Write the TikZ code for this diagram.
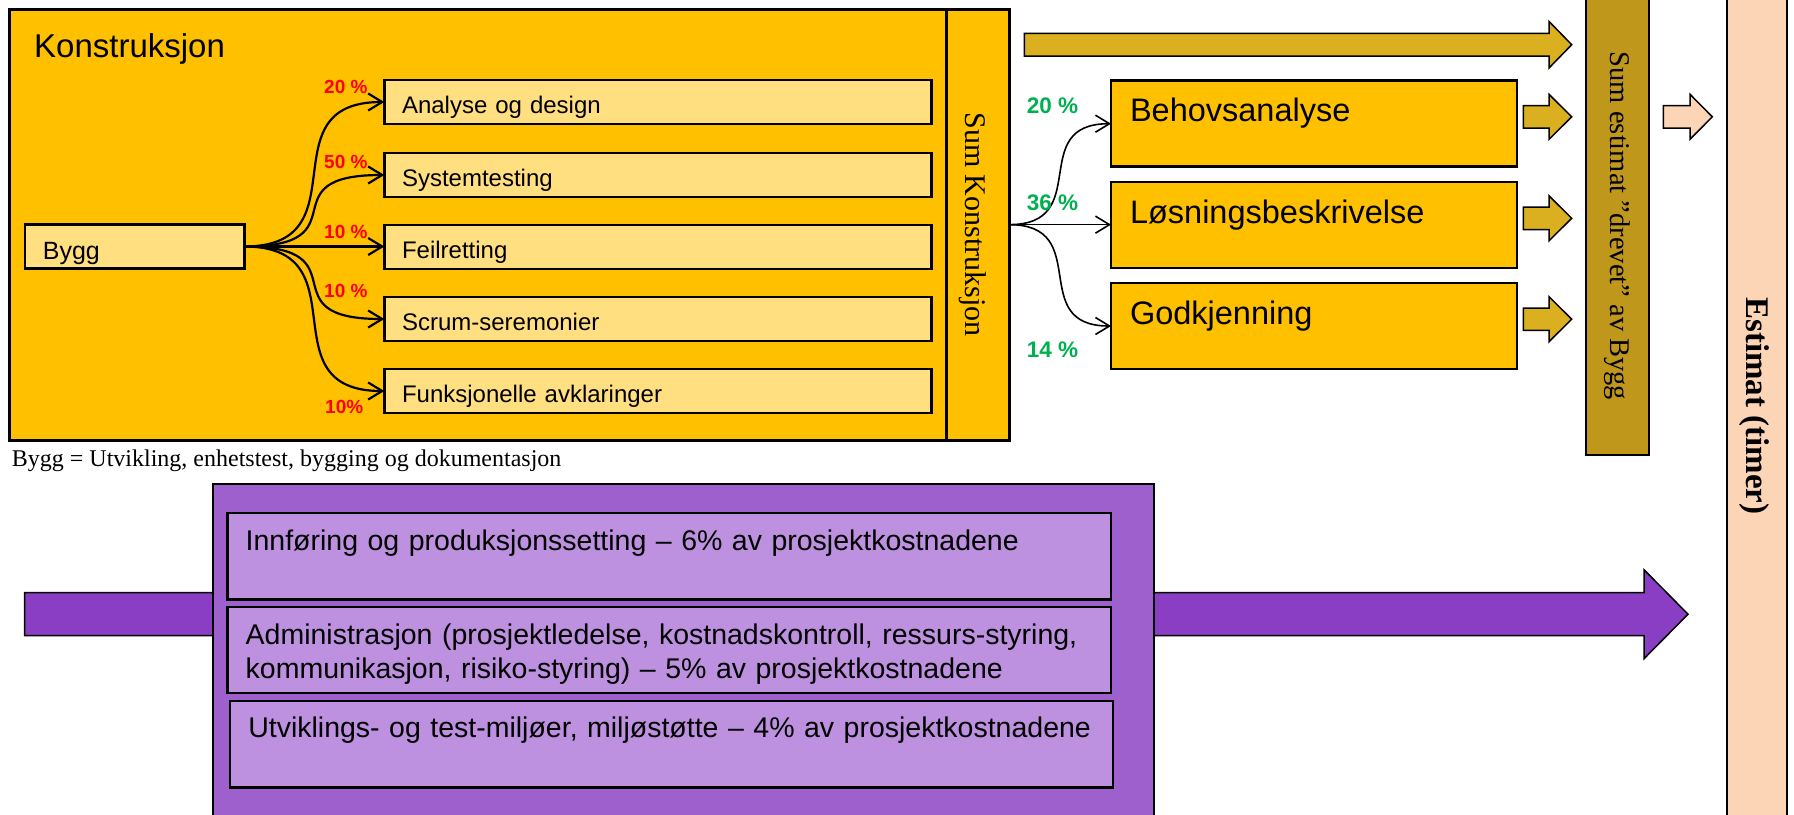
\documentclass[tikz,border=0pt]{standalone}
\usepackage{fontspec}
\setmainfont{Liberation Sans}
\newfontfamily\timesfont{Liberation Serif}
\usetikzlibrary{arrows.meta}

\definecolor{gold}{RGB}{255,192,0}
\definecolor{goldlight}{RGB}{255,223,128}
\definecolor{olivearrow}{RGB}{218,176,32}
\definecolor{olivecol}{RGB}{191,151,26}
\definecolor{peach}{RGB}{251,213,181}
\definecolor{purplearrow}{RGB}{138,62,196}
\definecolor{purplebox}{RGB}{158,96,205}
\definecolor{purplelight}{RGB}{189,145,224}
\definecolor{pctgreen}{RGB}{0,176,80}
\definecolor{pctred}{RGB}{255,0,0}

% block arrow: style, x start, x end of shaft, x tip, y middle, half shaft, half head
\newcommand\blockarrow[7]{%
  \draw[#1] (#2,#5-#6) -- (#3,#5-#6) -- (#3,#5-#7) -- (#4,#5)
    -- (#3,#5+#7) -- (#3,#5+#6) -- (#2,#5+#6) -- cycle;}

\tikzset{
  rbox/.style={draw=black, anchor=north west, inner sep=0pt, outer sep=0pt},
  tbox/.style={rbox, align=left, inner ysep=0pt},
  conn/.style={draw=black, line width=2.2pt, -{Straight Barb[length=14pt,width=17pt]}},
  connthin/.style={draw=black, line width=1.6pt, -{Straight Barb[length=14pt,width=17pt]}},
  redpct/.style={anchor=base west, inner sep=0pt, text=pctred, font=\bfseries\fontsize{19}{23}\selectfont},
  greenpct/.style={anchor=base west, inner sep=0pt, text=pctgreen, font=\bfseries\fontsize{22.5}{27}\selectfont},
  olivearr/.style={fill=olivearrow, draw=black, line width=1.5pt, line join=miter},
  peacharr/.style={fill=peach, draw=black, line width=1.5pt, line join=miter},
  purplearr/.style={fill=purplearrow, draw=black, line width=1.5pt, line join=miter},
}

\begin{document}
\begin{tikzpicture}[x=1pt,y=-1pt]
\useasboundingbox (0,0) rectangle (1794,814);
\clip (0,0) rectangle (1794,814);

% overhead stream running under the purple block
\blockarrow{purplearr}{24.5}{1644}{1688}{614.2}{21.5}{44.5}

% overhead activities
\node[rbox, fill=purplebox, line width=2pt, minimum width=941.3pt, minimum height=360pt] (pbox) at (212.7,484) {};
\node[tbox, fill=purplelight, line width=2.5pt, inner xsep=18pt, text width=847.3pt,
      text height=37.7pt, text depth=48.8pt, font=\fontsize{28.5}{34}\selectfont] (p1) at (227.7,513)
  {\mbox{Innføring og produksjonssetting – 6\% av prosjektkostnadene}};
\node[tbox, fill=purplelight, line width=2.5pt, inner xsep=18pt, text width=847.3pt,
      text height=37pt, text depth=49pt, font=\fontsize{28.5}{34}\selectfont] (p2) at (227.7,607)
  {\mbox{Administrasjon (prosjektledelse, kostnadskontroll, ressurs-styring,}\\
   \mbox{kommunikasjon, risiko-styring) – 5\% av prosjektkostnadene}};
\node[tbox, fill=purplelight, line width=2.5pt, inner xsep=18.3pt, text width=846.4pt,
      text height=36.7pt, text depth=49.8pt, font=\fontsize{28.5}{34}\selectfont] (p3) at (230,701)
  {\mbox{Utviklings- og test-miljøer, miljøstøtte – 4\% av prosjektkostnadene}};

% construction block
\node[rbox, fill=gold, line width=3pt, minimum width=999.4pt, minimum height=430.7pt] (konstr) at (9.6,9.3) {};
\node[rbox, fill=gold, line width=3pt, minimum width=63pt, minimum height=430.7pt] (sumk) at (946,9.3) {};
\node[rotate=-90, inner sep=0pt, font=\timesfont\fontsize{30}{36}\selectfont] (sumktxt) at (973,224.5) {Sum Konstruksjon};
\node[anchor=base west, inner sep=0pt, font=\fontsize{33}{40}\selectfont] (title) at (34,57) {Konstruksjon};

\node[tbox, fill=goldlight, line width=2.5pt, inner xsep=18pt, text width=183.4pt,
      text height=35pt, text depth=9.4pt, font=\fontsize{25}{30}\selectfont] (bygg) at (24.9,224.3) {Bygg};

\foreach \nm/\yy/\txt in {a1/80/Analyse og design, a2/153/Systemtesting, a3/225/Feilretting,
                          a4/297/Scrum-seremonier, a5/369/Funksjonelle avklaringer}
  \node[tbox, fill=goldlight, line width=2.5pt, inner xsep=17.7pt, text width=511.9pt,
        text height=33pt, text depth=11pt, font=\fontsize{24}{29}\selectfont] (\nm) at (384.3,\yy) {\txt};

\draw[conn] (bygg.east) .. controls +(120,0) and +(-120,0) .. (a1.west);
\draw[conn] (bygg.east) .. controls +(120,0) and +(-120,0) .. (a2.west);
\draw[conn] (bygg.east) -- (bygg.east -| a3.west);
\draw[conn] (bygg.east) .. controls +(120,0) and +(-120,0) .. (a4.west);
\draw[conn] (bygg.east) .. controls +(120,0) and +(-120,0) .. (a5.west);

\node[redpct] (r1) at (324,93) {20 \%};
\node[redpct] (r2) at (324,168) {50 \%};
\node[redpct] (r3) at (324,238) {10 \%};
\node[redpct] (r4) at (324,297) {10 \%};
\node[redpct] (r5) at (325,413) {10\%};

\node[anchor=base west, inner sep=0pt, font=\timesfont\fontsize{24}{29}\selectfont] (note) at (11.7,466.7)
  {Bygg = Utvikling, enhetstest, bygging og dokumentasjon};

% activities driven by the construction sum
\foreach \nm/\yy/\txt in {b1/80.7/Behovsanalyse, b2/182/Løsningsbeskrivelse, b3/283/Godkjenning}
  \node[tbox, fill=gold, line width=2.5pt, inner xsep=19pt, text width=368pt,
        text height=41pt, text depth=45pt, font=\fontsize{32.5}{39}\selectfont] (\nm) at (1111,\yy) {\txt};

\draw[connthin] (sumk.east) .. controls +(85,0) and +(-85,0) .. (b1.west);
\draw[connthin] (sumk.east) -- (sumk.east -| b2.west);
\draw[connthin] (sumk.east) .. controls +(85,0) and +(-85,0) .. (b3.west);

\node[greenpct] (g1) at (1026.7,113.3) {20 \%};
\node[greenpct] (g2) at (1026.7,210) {36 \%};
\node[greenpct] (g3) at (1026.7,357.7) {14 \%};

% flows into the driven sum
\blockarrow{olivearr}{1024.3}{1549}{1571.7}{44.7}{11.3}{23.3}
\blockarrow{olivearr}{1523.3}{1549}{1571.7}{116.8}{11.2}{22.5}
\blockarrow{olivearr}{1523.3}{1549}{1571.7}{218.3}{11.2}{22.5}
\blockarrow{olivearr}{1523.3}{1549}{1571.7}{319.2}{11.2}{22.5}

\node[rbox, fill=olivecol, line width=2pt, minimum width=63pt, minimum height=465pt] (sumest) at (1586,-10) {};
\node[rotate=-90, inner sep=0pt, font=\timesfont\fontsize{28.5}{34}\selectfont] (sumesttxt) at (1617,226)
  {Sum estimat ”drevet” av Bygg};

\blockarrow{peacharr}{1663.3}{1690}{1712.3}{116.8}{11.2}{22.5}

% total estimate
\node[rbox, fill=peach, line width=2pt, minimum width=60.3pt, minimum height=840pt] (estimat) at (1726.7,-10) {};
\node[rotate=-90, inner sep=0pt, font=\timesfont\bfseries\fontsize{33}{40}\selectfont] (estimattxt) at (1754,406)
  {Estimat (timer)};
\end{tikzpicture}
\end{document}
